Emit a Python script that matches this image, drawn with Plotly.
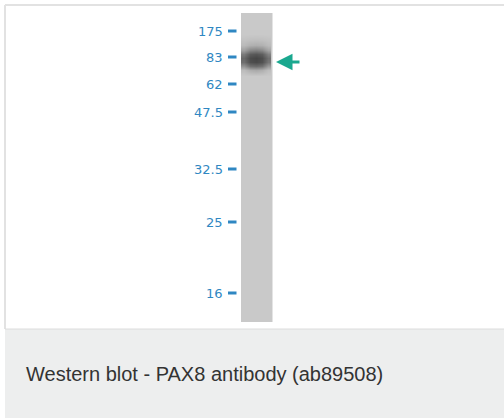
import plotly.graph_objects as go

# Molecular-weight marker ladder (kDa) and its migration position on the blot (px from top)
marker_kda = ["175", "83", "62", "47.5", "32.5", "25", "16"]
marker_pos = [31, 57, 84, 112, 169, 222, 293]

# Observed band: vertical intensity profile (grey level, 0=black, 255=white)
band_rows = [34, 40, 45, 50, 54, 58, 62, 66, 70, 76]
band_cols = [244, 250, 256, 262, 268]
band_grey = [
    [201, 201, 201, 201, 201],
    [194, 191, 190, 191, 194],
    [186, 177, 174, 177, 187],
    [160, 136, 130, 138, 165],
    [122, 92, 86, 94, 130],
    [104, 76, 70, 78, 112],
    [110, 80, 74, 82, 118],
    [146, 114, 108, 116, 154],
    [188, 174, 169, 175, 190],
    [201, 201, 201, 201, 201],
]

caption = "Western blot - PAX8 antibody (ab89508)"
band_target_y = 62

W, H = 504, 418
fig = go.Figure()

fig.add_trace(go.Heatmap(
    x=band_cols, y=band_rows, z=band_grey,
    zmin=0, zmax=255, zsmooth="best",
    colorscale=[[0, "rgb(0,0,0)"], [1, "rgb(255,255,255)"]],
    showscale=False, hoverinfo="skip",
))

shapes = []
# outer frame lines
shapes.append(dict(type="line", x0=5, x1=W, y0=5, y1=5, line=dict(color="#e2e2e2", width=2), layer="below"))
shapes.append(dict(type="line", x0=5, x1=5, y0=5, y1=329, line=dict(color="#e2e2e2", width=2), layer="below"))
# caption panel
shapes.append(dict(type="rect", x0=5, x1=W + 2, y0=329, y1=H + 2, fillcolor="#edeeee",
                   line=dict(width=0), layer="below"))
shapes.append(dict(type="line", x0=5, x1=W, y0=329, y1=329, line=dict(color="#dcdcdc", width=1), layer="below"))
# lane
shapes.append(dict(type="rect", x0=241, x1=272.5, y0=13, y1=322, fillcolor="#c9c9c9",
                   line=dict(width=0), layer="below"))
# marker dashes
for p in marker_pos:
    shapes.append(dict(type="line", x0=228, x1=236.5, y0=p, y1=p,
                       line=dict(color="#2f87c2", width=3)))

annotations = []
for lab, p in zip(marker_kda, marker_pos):
    annotations.append(dict(x=225, y=p, text=lab, showarrow=False, xanchor="right", yanchor="middle",
                            font=dict(family="DejaVu Sans", size=13, color="#2f87c2")))
annotations.append(dict(x=276, y=band_target_y, ax=301, ay=band_target_y, axref="x", ayref="y",
                        xref="x", yref="y", text="", showarrow=True, arrowhead=2, arrowsize=1.1,
                        arrowwidth=3, arrowcolor="#1aa88f"))
annotations.append(dict(x=24, y=374, text=caption, showarrow=False, xanchor="left", yanchor="middle",
                        font=dict(family="Liberation Sans, Arial", size=20, color="#333333")))

fig.update_layout(
    width=W, height=H, margin=dict(l=0, r=0, t=0, b=0),
    paper_bgcolor="white", plot_bgcolor="rgba(0,0,0,0)",
    xaxis=dict(range=[0, W], visible=False, fixedrange=True),
    yaxis=dict(range=[H, 0], visible=False, fixedrange=True),
    shapes=shapes, annotations=annotations, showlegend=False,
)
fig.write_html("out.html", config={"displayModeBar": False},
               post_script="document.body.style.margin='0';document.body.style.overflow='hidden';")
